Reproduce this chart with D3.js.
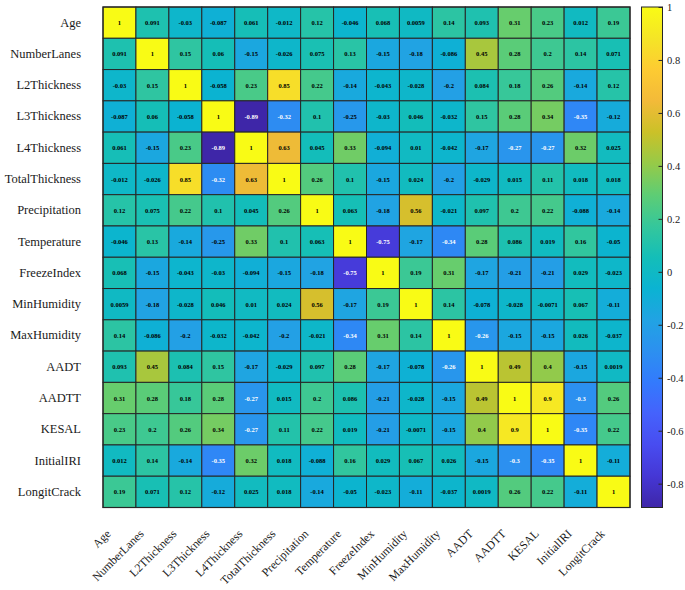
<!DOCTYPE html>
<html>
<head>
<meta charset="utf-8">
<script src="https://cdn.jsdelivr.net/npm/d3@7"></script>
<style>
  body { margin: 0; background: #fff; }
  svg text { font-family: "Liberation Serif", "Times New Roman", serif !important; }
</style>
</head>
<body>
<div id="chart"></div>
<script>
'use strict';

// variable names (rows and columns are the same list)
let variableNames = [
    "Age", "NumberLanes", "L2Thickness", "L3Thickness", "L4Thickness",
    "TotalThickness", "Precipitation", "Temperature", "FreezeIndex",
    "MinHumidity", "MaxHumidity", "AADT", "AADTT", "KESAL", "InitialIRI",
    "LongitCrack"];

// correlation values, one row per variable
let corrRows = [
    [1, 0.091, -0.03, -0.087, 0.061, -0.012, 0.12, -0.046, 0.068, 0.0059, 0.14, 0.093, 0.31, 0.23, 0.012, 0.19],
    [0.091, 1, 0.15, 0.06, -0.15, -0.026, 0.075, 0.13, -0.15, -0.18, -0.086, 0.45, 0.28, 0.2, 0.14, 0.071],
    [-0.03, 0.15, 1, -0.058, 0.23, 0.85, 0.22, -0.14, -0.043, -0.028, -0.2, 0.084, 0.18, 0.26, -0.14, 0.12],
    [-0.087, 0.06, -0.058, 1, -0.89, -0.32, 0.1, -0.25, -0.03, 0.046, -0.032, 0.15, 0.28, 0.34, -0.35, -0.12],
    [0.061, -0.15, 0.23, -0.89, 1, 0.63, 0.045, 0.33, -0.094, 0.01, -0.042, -0.17, -0.27, -0.27, 0.32, 0.025],
    [-0.012, -0.026, 0.85, -0.32, 0.63, 1, 0.26, 0.1, -0.15, 0.024, -0.2, -0.029, 0.015, 0.11, 0.018, 0.018],
    [0.12, 0.075, 0.22, 0.1, 0.045, 0.26, 1, 0.063, -0.18, 0.56, -0.021, 0.097, 0.2, 0.22, -0.088, -0.14],
    [-0.046, 0.13, -0.14, -0.25, 0.33, 0.1, 0.063, 1, -0.75, -0.17, -0.34, 0.28, 0.086, 0.019, 0.16, -0.05],
    [0.068, -0.15, -0.043, -0.03, -0.094, -0.15, -0.18, -0.75, 1, 0.19, 0.31, -0.17, -0.21, -0.21, 0.029, -0.023],
    [0.0059, -0.18, -0.028, 0.046, 0.01, 0.024, 0.56, -0.17, 0.19, 1, 0.14, -0.078, -0.028, -0.0071, 0.067, -0.11],
    [0.14, -0.086, -0.2, -0.032, -0.042, -0.2, -0.021, -0.34, 0.31, 0.14, 1, -0.26, -0.15, -0.15, 0.026, -0.037],
    [0.093, 0.45, 0.084, 0.15, -0.17, -0.029, 0.097, 0.28, -0.17, -0.078, -0.26, 1, 0.49, 0.4, -0.15, 0.0019],
    [0.31, 0.28, 0.18, 0.28, -0.27, 0.015, 0.2, 0.086, -0.21, -0.028, -0.15, 0.49, 1, 0.9, -0.3, 0.26],
    [0.23, 0.2, 0.26, 0.34, -0.27, 0.11, 0.22, 0.019, -0.21, -0.0071, -0.15, 0.4, 0.9, 1, -0.35, 0.22],
    [0.012, 0.14, -0.14, -0.35, 0.32, 0.018, -0.088, 0.16, 0.029, 0.067, 0.026, -0.15, -0.3, -0.35, 1, -0.11],
    [0.19, 0.071, 0.12, -0.12, 0.025, 0.018, -0.14, -0.05, -0.023, -0.11, -0.037, 0.0019, 0.26, 0.22, -0.11, 1]];

let colorbarTicks = [-0.8, -0.6, -0.4, -0.2, 0, 0.2, 0.4, 0.6, 0.8, 1];

// parula, every 16th entry of the 256 colour table
let parula = [
    [0.2422, 0.1504, 0.6603], [0.2704, 0.2138, 0.8346], [0.2813, 0.2985, 0.9397],
    [0.2710, 0.3860, 0.9898], [0.2006, 0.4803, 0.9906], [0.1716, 0.5655, 0.9393],
    [0.1288, 0.6408, 0.8910], [0.0433, 0.7039, 0.8242], [0.0770, 0.7468, 0.7224],
    [0.2061, 0.7808, 0.6065], [0.3671, 0.8021, 0.4563], [0.5886, 0.7913, 0.2833],
    [0.7945, 0.7554, 0.1570], [0.9523, 0.7284, 0.2237], [0.9938, 0.7974, 0.1974],
    [0.9601, 0.8963, 0.1507], [0.9769, 0.9839, 0.0805]].map(c => d3.rgb(c[0] * 255, c[1] * 255, c[2] * 255).formatHex());

const width = 685, height = 590;
const plotLeft = 103, plotRight = 630, plotTop = 7, plotBottom = 507.5;
const barLeft = 641.5, barWidth = 21;
const serif = "'Liberation Serif', 'Times New Roman', serif";

let cells = [];
corrRows.forEach((row, i) => {
    row.forEach((v, j) => {
        cells.push({"row": variableNames[i], "col": variableNames[j], "value": v});
    });
});

let vMin = d3.min(cells, d => d.value);
let vMax = d3.max(cells, d => d.value);

let x = d3.scaleBand().domain(variableNames).range([plotLeft, plotRight]);
let y = d3.scaleBand().domain(variableNames).range([plotTop, plotBottom]);
let color = d3.scaleLinear()
    .domain(parula.map((c, k) => vMin + (vMax - vMin) * k / (parula.length - 1)))
    .range(parula)
    .interpolate(d3.interpolateRgb);

function textColor(v) {
    let c = d3.rgb(color(v));
    let lum = (0.299 * c.r + 0.587 * c.g + 0.114 * c.b) / 255;
    return lum < 0.5 ? "#ffffff" : "#000000";
}

let svg = d3.select("#chart")
    .append("svg")
    .attr("width", width)
    .attr("height", height)
    .style("font-family", serif);

// heatmap cells
svg.append("g")
    .selectAll("rect")
    .data(cells)
    .enter()
    .append("rect")
    .attr("x", d => x(d.col))
    .attr("y", d => y(d.row))
    .attr("width", x.bandwidth())
    .attr("height", y.bandwidth())
    .style("fill", d => color(d.value))
    .style("stroke", "#262626")
    .style("stroke-width", 1);

svg.append("g")
    .selectAll("text")
    .data(cells)
    .enter()
    .append("text")
    .text(d => String(d.value))
    .attr("x", d => x(d.col) + x.bandwidth() / 2)
    .attr("y", d => y(d.row) + y.bandwidth() / 2)
    .attr("text-anchor", "middle")
    .attr("dominant-baseline", "central")
    .attr("font-size", 6.5)
    .attr("font-weight", "bold")
    .style("fill", d => textColor(d.value));

svg.append("rect")
    .attr("x", plotLeft)
    .attr("y", plotTop)
    .attr("width", plotRight - plotLeft)
    .attr("height", plotBottom - plotTop)
    .style("fill", "none")
    .style("stroke", "#262626")
    .style("stroke-width", 1.2);

// row labels
svg.append("g")
    .selectAll("text")
    .data(variableNames)
    .enter()
    .append("text")
    .text(d => d)
    .attr("x", plotLeft - 22)
    .attr("y", d => y(d) + y.bandwidth() / 2)
    .attr("text-anchor", "end")
    .attr("dominant-baseline", "central")
    .attr("font-size", 12.5)
    .style("fill", "#1a1a1a");

// column labels, rotated
svg.append("g")
    .selectAll("text")
    .data(variableNames)
    .enter()
    .append("text")
    .text(d => d)
    .attr("transform", d => "translate(" + (x(d) + x.bandwidth() / 2 - 8) + "," + (plotBottom + 27) + ") rotate(-45)")
    .attr("text-anchor", "end")
    .attr("font-size", 11.8)
    .style("fill", "#1a1a1a");

// colorbar
let cbScale = d3.scaleLinear().domain([vMin, vMax]).range([plotBottom, plotTop]);
let grad = svg.append("defs")
    .append("linearGradient")
    .attr("id", "parula-grad")
    .attr("x1", 0).attr("y1", 1).attr("x2", 0).attr("y2", 0);
grad.selectAll("stop")
    .data(parula)
    .enter()
    .append("stop")
    .attr("offset", (c, k) => k / (parula.length - 1))
    .attr("stop-color", c => c);

svg.append("rect")
    .attr("x", barLeft)
    .attr("y", plotTop)
    .attr("width", barWidth)
    .attr("height", plotBottom - plotTop)
    .style("fill", "url(#parula-grad)")
    .style("stroke", "#262626")
    .style("stroke-width", 1);

let cbAxis = svg.append("g")
    .attr("transform", "translate(" + (barLeft + barWidth) + ",0)")
    .call(d3.axisRight(cbScale)
        .tickValues(colorbarTicks)
        .tickFormat(d => String(d))
        .tickSizeInner(-4)
        .tickSizeOuter(0)
        .tickPadding(4.5));
cbAxis.attr("font-family", null);
cbAxis.select(".domain").remove();
cbAxis.selectAll(".tick line").attr("stroke", "#262626");
cbAxis.selectAll(".tick text")
    .style("font-family", serif)
    .attr("font-size", 10.5)
    .style("fill", "#1a1a1a");
</script>
</body>
</html>
